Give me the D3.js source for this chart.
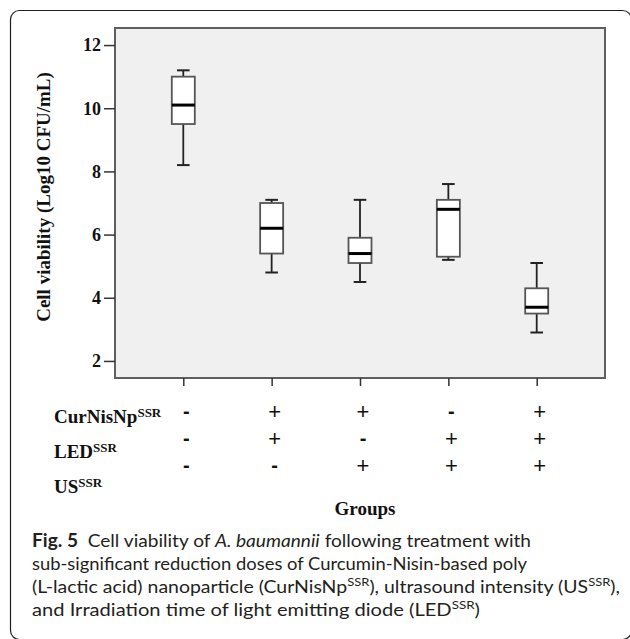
<!DOCTYPE html>
<html>
<head>
<meta charset="utf-8">
<script src="https://cdn.jsdelivr.net/npm/d3@7"></script>
<style>
html,body{margin:0;padding:0;background:#fff;}
svg{display:block;}
</style>
</head>
<body>
<script>
// ---- data ----
const groups = ["G1", "G2", "G3", "G4", "G5"];
const whiskerLow  = [8.2, 4.8, 4.5, 5.2, 2.9];
const q1          = [9.5, 5.4, 5.1, 5.3, 3.5];
const median      = [10.1, 6.2, 5.4, 6.8, 3.7];
const q3          = [11.0, 7.0, 5.9, 7.1, 4.3];
const whiskerHigh = [11.2, 7.1, 7.1, 7.6, 5.1];
const curNisNp = ["-", "+", "+", "-", "+"];
const led      = ["-", "+", "-", "+", "+"];
const us       = ["-", "-", "+", "+", "+"];
const factorNames = ["CurNisNp", "LED", "US"];
const yTicks = [2, 4, 6, 8, 10, 12];

const W = 630, H = 639;
const svg = d3.select("body").append("svg").attr("width", W).attr("height", H);

// outer frame
svg.append("rect").attr("x", 10.5).attr("y", 10.5).attr("width", 621).attr("height", 629)
  .attr("rx", 9).attr("fill", "none").attr("stroke", "#231f20").attr("stroke-width", 1.2);

const plot = {left: 115, top: 28, right: 605, bottom: 378};
const x = d3.scalePoint().domain(groups).range([plot.left, plot.right]).padding(0.773);
const y = d3.scaleLinear().domain([1.46, 12.54]).range([plot.bottom, plot.top]);

// plot background
svg.append("rect").attr("x", plot.left).attr("y", plot.top)
  .attr("width", plot.right - plot.left).attr("height", plot.bottom - plot.top)
  .attr("fill", "#f0f0f0").attr("stroke", "#5f5f5f").attr("stroke-width", 2);

const serif = "'Liberation Serif', 'Times New Roman', serif";

// y axis
const yAxis = d3.axisLeft(y).tickValues(yTicks).tickSize(11).tickPadding(3).tickFormat(d3.format("d"));
const gy = svg.append("g").attr("transform", `translate(${plot.left},0)`).call(yAxis);
gy.select(".domain").remove();
gy.selectAll(".tick line").attr("stroke", "#333").attr("stroke-width", 1.5);
gy.selectAll(".tick text").attr("font-family", serif).attr("font-weight", "bold")
  .attr("font-size", 18).attr("fill", "#111");

// x axis ticks
const xAxis = d3.axisBottom(x).tickSize(8).tickFormat("");
const gx = svg.append("g").attr("transform", `translate(0,${plot.bottom})`).call(xAxis);
gx.select(".domain").remove();
gx.selectAll(".tick line").attr("stroke", "#333").attr("stroke-width", 1.5);

// y label
svg.append("text").attr("transform", `translate(50,${(plot.top + plot.bottom) / 2 - 6}) rotate(-90)`)
  .attr("text-anchor", "middle").attr("font-family", serif).attr("font-weight", "bold")
  .attr("font-size", 19).attr("fill", "#111").text("Cell viability (Log10 CFU/mL)");

// boxes
const boxW = 23, capW = 12.6;
const data = groups.map((g, i) => ({g, lo: whiskerLow[i], q1: q1[i], med: median[i], q3: q3[i], hi: whiskerHigh[i]}));
const bx = svg.append("g").selectAll("g").data(data).join("g")
  .attr("transform", d => `translate(${x(d.g)},0)`);
bx.append("line").attr("x1", 0).attr("x2", 0).attr("y1", d => y(d.hi)).attr("y2", d => y(d.q3))
  .attr("stroke", "#222").attr("stroke-width", 1.8);
bx.append("line").attr("x1", 0).attr("x2", 0).attr("y1", d => y(d.q1)).attr("y2", d => y(d.lo))
  .attr("stroke", "#222").attr("stroke-width", 1.8);
bx.append("line").attr("x1", -capW / 2).attr("x2", capW / 2).attr("y1", d => y(d.hi)).attr("y2", d => y(d.hi))
  .attr("stroke", "#222").attr("stroke-width", 2);
bx.append("line").attr("x1", -capW / 2).attr("x2", capW / 2).attr("y1", d => y(d.lo)).attr("y2", d => y(d.lo))
  .attr("stroke", "#222").attr("stroke-width", 2);
bx.append("rect").attr("x", -boxW / 2).attr("width", boxW)
  .attr("y", d => y(d.q3)).attr("height", d => y(d.q1) - y(d.q3))
  .attr("fill", "#fff").attr("stroke", "#555").attr("stroke-width", 1.8);
bx.append("line").attr("x1", -boxW / 2).attr("x2", boxW / 2).attr("y1", d => y(d.med)).attr("y2", d => y(d.med))
  .attr("stroke", "#000").attr("stroke-width", 3);

// factor table
const rowBase = [423, 458, 493];
const signY = [411, 438, 465];
const rows = [curNisNp, led, us];
factorNames.forEach((name, r) => {
  const t = svg.append("text").attr("x", 54).attr("y", rowBase[r]).attr("font-family", serif)
    .attr("font-weight", "bold").attr("font-size", 19).attr("fill", "#111");
  t.append("tspan").text(name);
  t.append("tspan").attr("font-size", 13).attr("dy", -6).text("SSR");
  svg.append("g").selectAll("text").data(rows[r]).join("text")
    .attr("x", (d, i) => x(groups[i]) + 3)
    .attr("y", signY[r]).attr("dy", "0.35em")
    .attr("text-anchor", "middle")
    .attr("font-family", "'Liberation Sans', Arial, sans-serif")
    .attr("font-size", d => d === "+" ? 22 : 20)
    .attr("font-weight", d => d === "-" ? "bold" : "normal")
    .attr("fill", "#111").text(d => d);
});

svg.append("text").attr("x", 365).attr("y", 515).attr("text-anchor", "middle")
  .attr("font-family", serif).attr("font-weight", "bold").attr("font-size", 19).attr("fill", "#111")
  .text("Groups");

// caption
const capFont = "Lato, 'Open Sans', sans-serif";
const capLines = [
  [["Fig. 5", "b"], ["  Cell viability of ", ""], ["A. baumannii", "i"], [" following treatment with", ""]],
  [["sub-significant reduction doses of Curcumin-Nisin-based poly", ""]],
  [["(L-lactic acid) nanoparticle (CurNisNp", ""], ["SSR", "s"], ["), ultrasound intensity (US", ""], ["SSR", "s"], ["),", ""]],
  [["and Irradiation time of light emitting diode (LED", ""], ["SSR", "s"], [")", ""]]
];
const capBase = [547, 570, 593, 616];
const capRight = [531, 527, 620, 480];
capLines.forEach((parts, li) => {
  const t = svg.append("text").attr("x", 32).attr("y", capBase[li]).attr("font-family", capFont)
    .attr("font-size", 18).attr("fill", "#231f20").attr("xml:space", "preserve");
  let prevSup = false;
  parts.forEach(([s, st]) => {
    const ts = t.append("tspan").text(s);
    if (st === "b") ts.attr("font-weight", "bold");
    if (st === "i") ts.attr("font-style", "italic");
    if (st === "s") { ts.attr("font-size", 12).attr("dy", -7); prevSup = true; }
    else if (prevSup) { ts.attr("dy", 7); prevSup = false; }
  });
  const len = t.node().getComputedTextLength();
  t.attr("textLength", capRight[li] - 32).attr("lengthAdjust", "spacingAndGlyphs");
});
</script>
</body>
</html>
